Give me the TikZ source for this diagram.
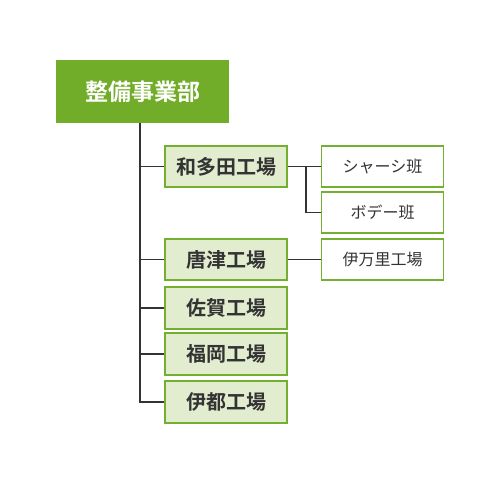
\documentclass[tikz,border=0pt]{standalone}
\usepackage{fontspec}
\newfontfamily\jp{Noto Sans CJK JP}
\newfontfamily\jpb{Noto Sans CJK JP Bold}
\definecolor{topgreen}{HTML}{72AD2A}
\definecolor{boxborder}{HTML}{74B030}
\definecolor{boxfill}{HTML}{E2ECCF}
\definecolor{linegray}{HTML}{333333}
\definecolor{textdark}{HTML}{333333}
\begin{document}
\begin{tikzpicture}[x=1pt,y=-1pt,
  topbox/.style={fill=topgreen,draw=none,minimum width=173pt,minimum height=63pt,inner sep=0pt,text=white,font=\jpb\fontsize{23}{26}\selectfont},
  midbox/.style={fill=boxfill,draw=boxborder,line width=1.6pt,minimum width=122pt,minimum height=41.5pt,inner sep=0pt,text=textdark,font=\jpb\fontsize{20}{24}\selectfont},
  leafbox/.style={fill=white,draw=boxborder,line width=1.6pt,minimum width=122pt,minimum height=41.5pt,inner sep=0pt,text=textdark,font=\jp\fontsize{16}{19}\selectfont},
  conn/.style={draw=linegray,line width=1.5pt}]
\useasboundingbox (0,0) rectangle (500,500);
\node[topbox] (top) at (142.5,91.5) {整備事業部};
\node[midbox] (wada) at (226,166.5) {和多田工場};
\node[midbox] (kara) at (226,259.5) {唐津工場};
\node[midbox] (saga) at (226,308) {佐賀工場};
\node[midbox] (fuku) at (226,354) {福岡工場};
\node[midbox] (ito) at (226,402) {伊都工場};
\node[leafbox] (chassis) at (382.5,166.5) {シャーシ班};
\node[leafbox] (body) at (382.5,212.5) {ボデー班};
\node[leafbox] (imari) at (382.5,259.5) {伊万里工場};
\coordinate (vtop) at (140,122.5);
\coordinate (bx) at (306,166.5);
\draw[conn] (vtop) |- (ito.west);
\draw[conn] (wada.west -| vtop) -- (wada.west);
\draw[conn] (kara.west -| vtop) -- (kara.west);
\draw[conn] (saga.west -| vtop) -- (saga.west);
\draw[conn] (fuku.west -| vtop) -- (fuku.west);
\draw[conn] (wada.east) -- (chassis.west);
\draw[conn] (bx) |- (body.west);
\draw[conn] (kara.east) -- (imari.west);
\end{tikzpicture}
\end{document}
